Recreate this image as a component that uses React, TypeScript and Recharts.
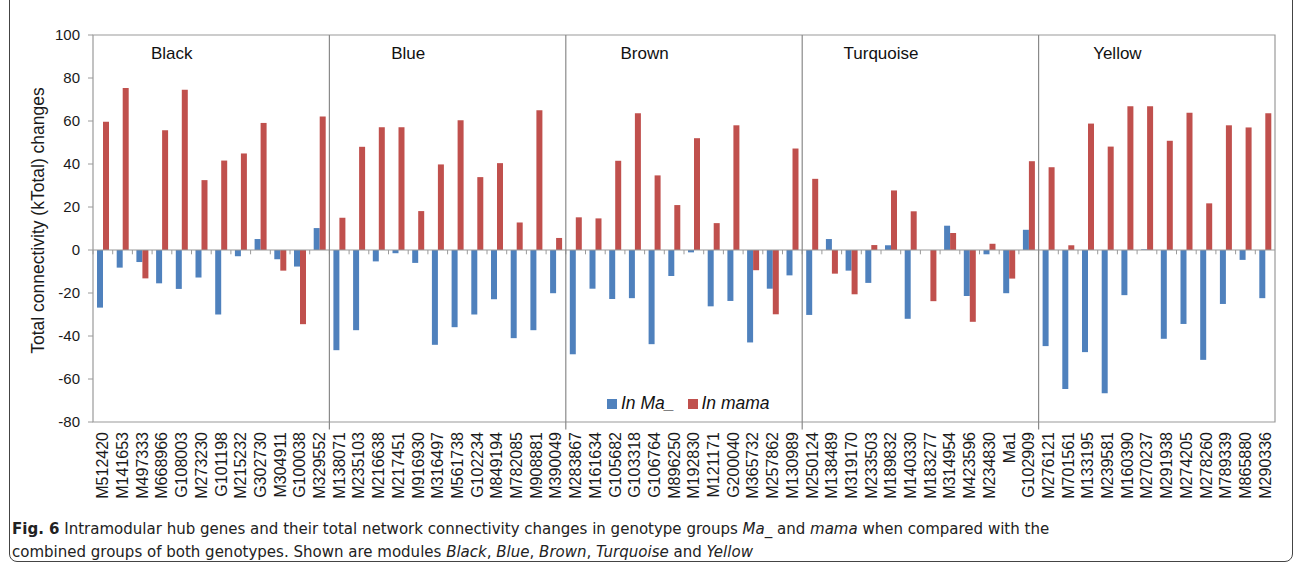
import React from 'react';
import { BarChart, Bar, XAxis, YAxis, ReferenceLine, ReferenceArea, Legend, Label } from 'recharts';

// Hub genes per module, in plotting order
const modules = ['Black', 'Blue', 'Brown', 'Turquoise', 'Yellow'];

const blackGenes = ['M512420', 'M141653', 'M497333', 'M668966', 'G108003', 'M273230', 'G101198', 'M215232', 'G302730', 'M304911', 'G100038', 'M329552'];
const blueGenes = ['M138071', 'M235103', 'M216638', 'M217451', 'M916930', 'M316497', 'M561738', 'G102234', 'M849194', 'M782085', 'M908881', 'M390049'];
const brownGenes = ['M283867', 'M161634', 'G105682', 'G103318', 'G106764', 'M896250', 'M192830', 'M121171', 'G200040', 'M365732', 'M257862', 'M130989'];
const turquoiseGenes = ['M250124', 'M138489', 'M319170', 'M233503', 'M189832', 'M140330', 'M183277', 'M314954', 'M423596', 'M234830', 'Ma1', 'G102909'];
const yellowGenes = ['M276121', 'M701561', 'M133195', 'M239581', 'M160390', 'M270237', 'M291938', 'M274205', 'M278260', 'M789339', 'M865880', 'M290336'];

// kTotal change in Ma_ group
const blackMa = [-26.8, -8.2, -5.6, -15.5, -18.1, -12.8, -30, -2.9, 5.1, -4.3, -7.7, 10.2];
const blueMa = [-46.6, -37.3, -5.3, -1.5, -6, -44.1, -35.9, -30, -22.9, -41, -37.3, -20.1];
const brownMa = [-48.5, -18, -22.8, -22.4, -43.8, -12.1, -1.1, -26.2, -23.7, -43, -18, -11.8];
const turquoiseMa = [-30.2, 5.1, -9.6, -15.3, 2.2, -32, 0, 11.3, -21.4, -2, -20.1, 9.4];
const yellowMa = [-44.7, -64.7, -47.5, -66.6, -21, 0.3, -41.3, -34.4, -51.1, -25.1, -4.6, -22.4];

// kTotal change in mama group
const blackMama = [59.6, 75.4, -13.2, 55.7, 74.5, 32.5, 41.6, 44.9, 59.1, -9.6, -34.5, 62.1];
const blueMama = [15, 48, 57.1, 57.1, 18.1, 39.8, 60.4, 33.9, 40.4, 12.8, 65, 5.6];
const brownMama = [15.2, 14.7, 41.5, 63.6, 34.7, 20.9, 52, 12.5, 58, -9.4, -29.9, 47.2];
const turquoiseMama = [33.1, -11, -20.6, 2.3, 27.7, 18, -23.8, 7.9, -33.4, 2.9, -13.3, 41.3];
const yellowMama = [38.5, 2.2, 58.8, 48.1, 66.9, 66.9, 50.8, 63.8, 21.7, 58, 57, 63.6];

const yTicks = [-80, -60, -40, -20, 0, 20, 40, 60, 80, 100];

const geneGroups = [blackGenes, blueGenes, brownGenes, turquoiseGenes, yellowGenes];
const maGroups = [blackMa, blueMa, brownMa, turquoiseMa, yellowMa];
const mamaGroups = [blackMama, blueMama, brownMama, turquoiseMama, yellowMama];

const rows = geneGroups.flatMap((genes, m) =>
  genes.map((gene, i) => ({ gene, ma: maGroups[m][i], mama: mamaGroups[m][i] }))
);

const FONT = '"Liberation Sans", Arial, Helvetica, sans-serif';
const AXIS_GRAY = '#9a9a9a';
const BLUE = '#4f81bd';
const RED = '#c0504d';

const GeneTick = (props: any) => {
  const { x, y, payload } = props;
  return (
    <text
      transform={`translate(${x},${y + 2}) rotate(-90)`}
      textAnchor="end"
      dy={5.5}
      fontSize={16}
      fontFamily={FONT}
      fill="#1a1a1a"
    >
      {payload.value}
    </text>
  );
};

export default function App() {
  return (
    <div style={{ position: 'absolute', left: 0, top: 0, width: 1295, height: 566, background: '#fff', overflow: 'hidden' }}>
      <div
        style={{
          position: 'absolute',
          left: 9,
          top: -20,
          width: 1282,
          height: 580,
          border: '1.5px solid #444',
          borderRadius: 8,
        }}
      />
      <div style={{ position: 'absolute', left: 0, top: 0 }}>
        <BarChart
          width={1295}
          height={510}
          data={rows}
          margin={{ top: 35, right: 20, bottom: 0, left: 33 }}
          barGap={0}
          barSize={6}
        >
          <ReferenceArea y1={-80} y2={100} fill="none" stroke={AXIS_GRAY} strokeWidth={1.2} />
          <XAxis
            dataKey="gene"
            interval={0}
            axisLine={false}
            tickLine={false}
            height={88}
            tick={<GeneTick />}
          />
          <YAxis
            width={60}
            domain={[-80, 100]}
            ticks={yTicks}
            interval={0}
            axisLine={false}
            tickLine={{ stroke: AXIS_GRAY }}
            tickSize={5}
            tickMargin={8}
            tick={{ fontSize: 15, fontFamily: FONT, fill: '#1a1a1a' }}
          >
            <Label
              value="Total connectivity (kTotal) changes"
              angle={-90}
              position="insideLeft"
              offset={5}
              dy={-8}
              style={{ textAnchor: 'middle', fontSize: 17.5, fontFamily: FONT, fill: '#1a1a1a' }}
            />
          </YAxis>
          <ReferenceLine y={0} stroke={AXIS_GRAY} strokeWidth={1.2} />
          {rows.map((r) => (
            <ReferenceLine
              key={'t' + r.gene}
              segment={[{ x: r.gene, y: 0 }, { x: r.gene, y: -2 }]}
              position="start"
              stroke={AXIS_GRAY}
              ifOverflow="visible"
            />
          ))}
          {geneGroups.slice(1).map((genes) => (
            <ReferenceLine
              key={'sep' + genes[0]}
              segment={[{ x: genes[0], y: 100 }, { x: genes[0], y: -83.5 }]}
              position="start"
              stroke="#8a8a8a"
              strokeWidth={1.2}
              ifOverflow="visible"
            />
          ))}
          {geneGroups.map((genes, m) => (
            <ReferenceArea
              key={'name' + modules[m]}
              x1={genes[3]}
              x2={genes[4]}
              y1={97}
              y2={86}
              fill="none"
              stroke="none"
              label={{ value: modules[m], position: 'center', fontSize: 17, fontFamily: FONT, fill: '#111' }}
            />
          ))}
          <Bar dataKey="ma" name="In Ma_" fill={BLUE} isAnimationActive={false} />
          <Bar dataKey="mama" name="In mama" fill={RED} isAnimationActive={false} />
          <Legend
            layout="horizontal"
            verticalAlign="middle"
            align="center"
            iconType="square"
            iconSize={10}
            wrapperStyle={{ left: 607, top: 393, width: 'auto', fontSize: 17.5, fontFamily: FONT }}
            formatter={(v: string) => (
              <span style={{ fontStyle: 'italic', color: '#111', marginRight: 3 }}>{v}</span>
            )}
          />
        </BarChart>
      </div>
      <div
        style={{
          position: 'absolute',
          left: 12,
          top: 517,
          fontFamily: '"Liberation Sans Narrow", "DejaVu Sans Condensed", "Roboto Condensed", sans-serif',
          fontSize: 16.7,
          lineHeight: '23px',
          color: '#222',
          whiteSpace: 'nowrap',
        }}
      >
        <b>Fig. 6</b> Intramodular hub genes and their total network connectivity changes in genotype groups <i>Ma_</i> and <i>mama</i> when compared with the
        <br />
        combined groups of both genotypes. Shown are modules <i>Black</i>, <i>Blue</i>, <i>Brown</i>, <i>Turquoise</i> and <i>Yellow</i>
      </div>
    </div>
  );
}
